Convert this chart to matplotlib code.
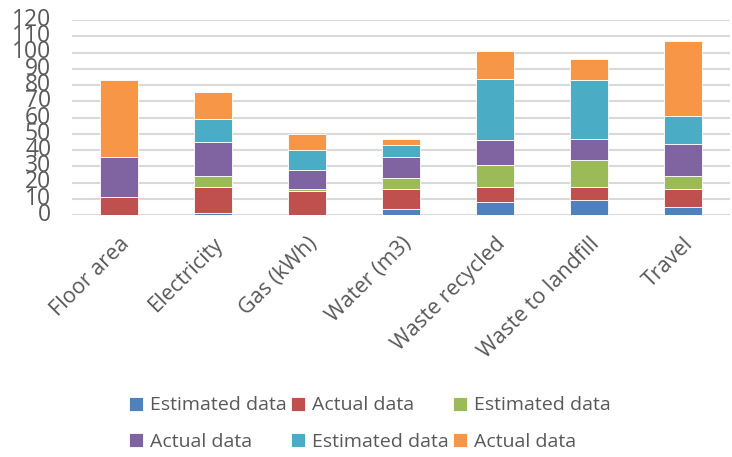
import matplotlib.pyplot as plt
import numpy as np

plt.rcParams['font.family'] = ['Open Sans', 'DejaVu Sans']

categories = ["Floor area", "Electricity", "Gas (kWh)", "Water (m3)",
              "Waste recycled", "Waste to landfill", "Travel"]
series_names = ["Estimated data", "Actual data", "Estimated data",
                "Actual data", "Estimated data", "Actual data"]
s1 = [0, 1, 0, 4, 8, 9, 5]
s2 = [11, 16, 15, 12, 9, 8, 11]
s3 = [0, 7, 1, 7, 14, 17, 8]
s4 = [25, 21, 12, 13, 15, 13, 20]
s5 = [0, 14, 12, 7, 38, 36, 17]
s6 = [47, 17, 10, 4, 17, 13, 46]
colors = ["#4F81BD", "#C0504D", "#9BBB59", "#8064A2", "#4BACC6", "#F79646"]

fig = plt.figure(figsize=(7.32, 4.57), dpi=100)
ax = fig.add_axes([72/732, 1 - 215/457, 658/732, 195/457])

x = np.arange(len(categories))
bottom = np.zeros(len(categories))
handles = []
for vals, name, c in zip([s1, s2, s3, s4, s5, s6], series_names, colors):
    b = ax.bar(x, vals, 0.4, bottom=bottom, color=c, label=name,
               edgecolor="white", linewidth=0.6, zorder=3)
    handles.append(b)
    bottom += np.array(vals)

ax.set_xlim(-0.5, len(categories) - 0.5)
ax.set_ylim(0, 120)
ax.set_yticks(np.arange(0, 121, 10))
ax.yaxis.grid(True, color="#D9D9D9", linewidth=1.5, zorder=0)
for s in ax.spines.values():
    s.set_visible(False)
ax.tick_params(axis="y", length=0, labelsize=16.5, labelcolor="#595959", pad=15)
ax.tick_params(axis="x", length=0, labelsize=15.5, labelcolor="#595959", pad=13)
ax.set_xticks(x)
ax.set_xticklabels(categories, rotation=45, ha="right", rotation_mode="anchor")
for lab in ax.get_yticklabels():
    lab.set_verticalalignment("center")

# legend laid out row by row like the original
order = [0, 3, 1, 4, 2, 5]
fig.legend([handles[i] for i in order], [series_names[i] for i in order],
           ncol=3, loc="center", bbox_to_anchor=(0.505, 0.073), frameon=False,
           fontsize=14, labelcolor="#595959", handlelength=0.75,
           handleheight=0.75, handletextpad=0.35, columnspacing=0.2,
           labelspacing=0.95)

plt.savefig("out.png", dpi=100)
